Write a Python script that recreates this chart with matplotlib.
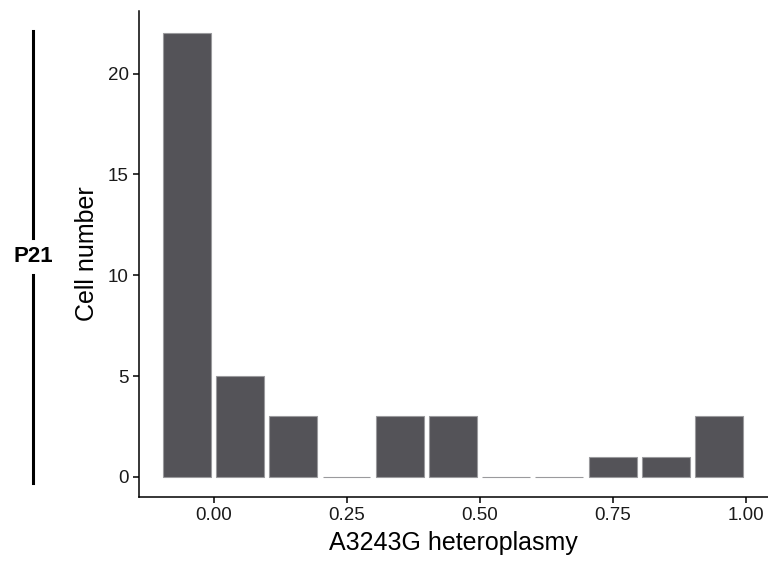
import numpy as np
import matplotlib.pyplot as plt
from matplotlib.lines import Line2D

plt.rcParams['font.family'] = ['Liberation Sans', 'DejaVu Sans']

# histogram bins (centres) and cell counts
bin_centres = [-0.05, 0.05, 0.15, 0.25, 0.35, 0.45, 0.55, 0.65, 0.75, 0.85, 0.95]
counts = [22, 5, 3, 0, 3, 3, 0, 0, 1, 1, 3]
x_ticks = [0.0, 0.25, 0.5, 0.75, 1.0]
x_ticklabels = ["0.00", "0.25", "0.50", "0.75", "1.00"]
y_ticks = [0, 5, 10, 15, 20]
panel = "P21"

fig = plt.figure(figsize=(7.68, 5.62), dpi=100)
ax = fig.add_axes([139/768, 1-497/562, 1-139/768, (497-11)/562])

ax.bar(bin_centres, counts, width=0.09, color="#545358", edgecolor="#9a9a9d", linewidth=0.8)

ax.set_xlim(-0.14, 1.042)
ax.set_ylim(-1.0, 23.1)
ax.set_xticks(x_ticks)
ax.set_xticklabels(x_ticklabels)
ax.set_yticks(y_ticks)
for s in ["top", "right"]:
    ax.spines[s].set_visible(False)
for s in ["left", "bottom"]:
    ax.spines[s].set_linewidth(1.1)
ax.tick_params(length=4.5, width=1.1, labelsize=13.5, pad=3, colors="black")
ax.tick_params(axis="x", labelcolor="#1a1a1a")
ax.tick_params(axis="y", labelcolor="#1a1a1a")
ax.set_xlabel("A3243G heteroplasmy", fontsize=18, labelpad=5)
ax.set_ylabel("Cell number", fontsize=18, labelpad=6)

# strip label on the left
fig.add_artist(Line2D([33/768, 33/768], [1-31/562, 1-238/562], color="black", lw=2.2))
fig.add_artist(Line2D([33/768, 33/768], [1-275/562, 1-483/562], color="black", lw=2.2))
fig.text(33/768, 1-256/562, panel, fontsize=16, fontweight="bold", ha="center", va="center")

fig.savefig("out.png", dpi=100)
